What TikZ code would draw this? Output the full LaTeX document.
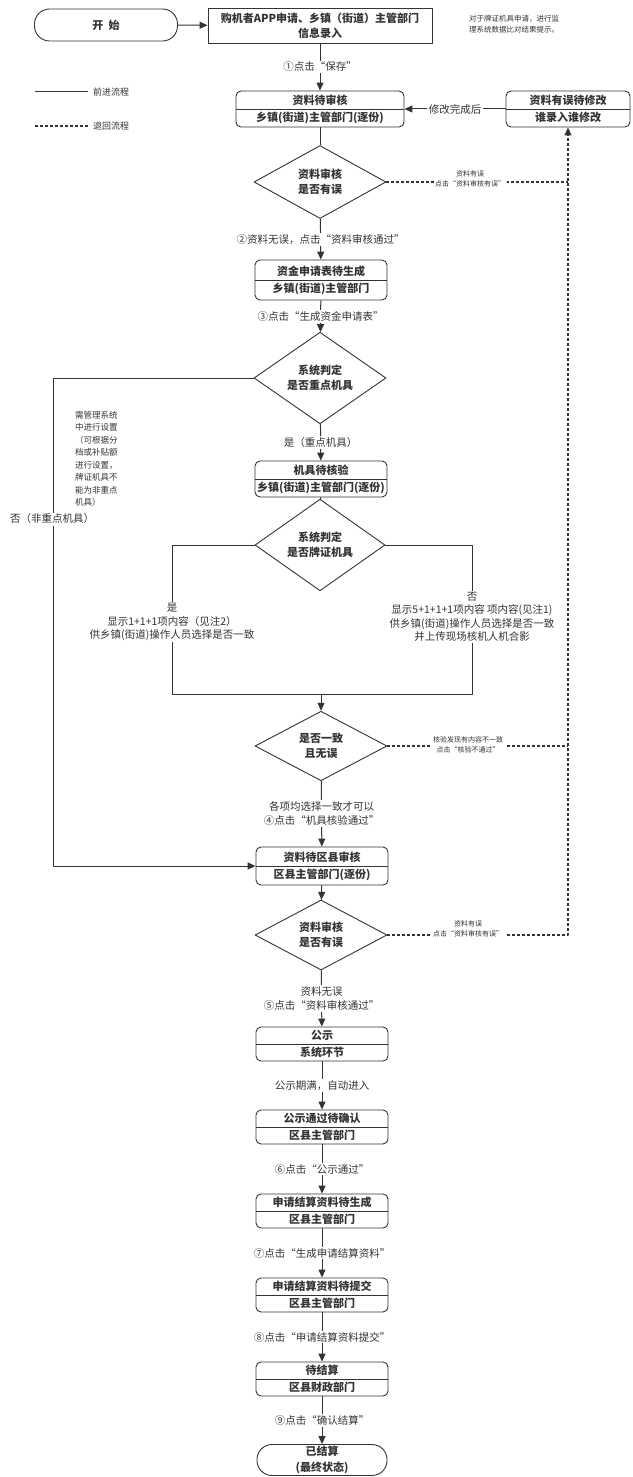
\documentclass[tikz,border=0pt]{standalone}
\usepackage{fontspec}
\setmainfont{Noto Sans CJK SC}
\usetikzlibrary{arrows.meta,shapes.geometric}
\definecolor{ink}{HTML}{333333}

\begin{document}
\begin{tikzpicture}[
  x=1pt, y=-1pt,
  line join=round,
  every node/.style={inner sep=1pt, text=ink},
  forward/.style={draw=ink, line width=1pt},
  flow/.style={forward, -{Triangle[length=8pt,width=7pt]}},
  back/.style={draw=ink, line width=1.2pt, dash pattern=on 2.5pt off 2.5pt},
  backflow/.style={back, -{Triangle[length=8pt,width=7pt]}},
  statebox/.style={draw=ink, line width=0.9pt, rounded corners=5pt,
    minimum width=132pt, minimum height=#1, inner sep=0pt, align=center,
    font=\fontsize{11}{17}\selectfont\bfseries,
    path picture={\draw[ink, line width=0.9pt] (path picture bounding box.west) -- (path picture bounding box.east);}},
  statebox/.default=34pt,
  decide/.style={diamond, draw=ink, line width=0.9pt, minimum width=132pt,
    minimum height=#1, inner sep=0pt, align=center,
    font=\fontsize{11}{15}\selectfont\bfseries},
  decide/.default=70pt,
  term/.style={draw=ink, line width=0.9pt, rounded corners=15pt, align=center,
    font=\fontsize{11}{16}\selectfont\bfseries},
  lbl/.style={fill=white, inner sep=1.5pt, align=center, font=\fontsize{10.5}{14}\selectfont},
  backlbl/.style={fill=white, inner sep=1.5pt, align=center, font=\fontsize{7}{10}\selectfont},
  note/.style={align=left, font=\fontsize{7.5}{11.5}\selectfont},
]
\useasboundingbox (0,0) rectangle (632,1477);

% top row
\node[term, minimum width=143pt, minimum height=32pt] (start) at (106,25) {开\ \ 始};
\node[draw=ink, line width=0.9pt, minimum width=224pt, minimum height=35pt, align=center,
  font=\fontsize{11}{15}\selectfont\bfseries] (apply) at (320,25.5) {购机者APP申请、乡镇（街道）主管部门\\信息录入};
\node[note, anchor=west] (hint) at (468,24) {对于牌证机具申请，进行监\\理系统数据比对结果提示。};

% legend
\coordinate (fwd0) at (35,92);
\coordinate (bck0) at (35,126);
\node[anchor=west, font=\fontsize{9}{11}\selectfont] (fwdtxt) at (92,92) {前进流程};
\node[anchor=west, font=\fontsize{9}{11}\selectfont] (bcktxt) at (92,126) {退回流程};
\draw[forward, shorten >=4pt] (fwd0) -- (fwdtxt.west);
\draw[back, shorten >=4pt] (bck0) -- (bcktxt.west);

% main column
\node[statebox=36pt, minimum width=168pt] (check) at (320,109) {资料待审核\\乡镇(街道)主管部门(逐份)};
\node[statebox=36pt, minimum width=124pt] (fix) at (568,109) {资料有误待修改\\谁录入谁修改};
\node[decide=73pt] (audit) at (320,182) {资料审核\\是否有误};
\node[statebox=40pt] (fund) at (321,280) {资金申请表待生成\\乡镇(街道)主管部门};
\node[decide=67pt] (key) at (320,378) {系统判定\\是否重点机具};
\node[statebox=36pt] (verify) at (321,479) {机具待核验\\乡镇(街道)主管部门(逐份)};
\node[decide=80pt, minimum width=130pt] (plate) at (320,545) {系统判定\\是否牌证机具};
\node[decide=68pt] (match) at (321,746) {是否一致\\且无误};
\node[statebox=38pt] (county) at (322,866) {资料待区县审核\\区县主管部门(逐份)};
\node[decide=70pt] (audit2) at (321,935) {资料审核\\是否有误};
\node[statebox] (publish) at (322,1044) {公示\\系统环节};
\node[statebox] (confirm) at (322,1127) {公示通过待确认\\区县主管部门};
\node[statebox] (gen) at (322,1211) {申请结算资料待生成\\区县主管部门};
\node[statebox] (submit) at (322,1295) {申请结算资料待提交\\区县主管部门};
\node[statebox] (settle) at (322,1379) {待结算\\区县财政部门};
\node[term, minimum width=130pt, minimum height=31pt] (done) at (322,1460) {已结算\\(最终状态)};

% forward flow
\draw[flow] (start) -- (apply);
\draw[flow] (apply) -- node[lbl] {①点击“保存”} (check);
\draw[flow] (fix) -- node[lbl] {修改完成后} (check);
\draw[forward] (check) -- (audit);
\draw[flow] (audit) -- node[lbl] {②资料无误，点击“资料审核通过”} (fund);
\draw[flow] (fund) -- node[lbl] {③点击“生成资金申请表”} (key);
\draw[flow] (key) -- node[lbl] {是（重点机具）} (verify);
\draw[forward] (verify) -- (plate);

\coordinate (joinL) at (172,694);
\coordinate (joinR) at (472,694);
\coordinate (joinM) at (321,694);
\draw[forward] (plate.west) -| (joinL) -- (joinR) |- (plate.east);
\draw[flow] (joinM) -- (match);
\node[lbl, font=\fontsize{10.5}{13.5}\selectfont] (yestxt) at (172,622) {是\\显示1+1+1项内容（见注2）\\供乡镇(街道)操作人员选择是否一致};
\node[lbl, font=\fontsize{10.5}{13.5}\selectfont] (notxt) at (472,617) {否\\显示5+1+1+1项内容 项内容(见注1)\\供乡镇(街道)操作人员选择是否一致\\并上传现场核机人机合影};

\coordinate (skip) at (53,866);
\draw[flow] (key.west) -| (skip) -- (county.west);
\node[lbl] (nokey) at (52,519) {否（非重点机具）};
\node[note, anchor=north west, font=\fontsize{8.5}{12.5}\selectfont] (keynote) at (74,410) {需管理系统\\中进行设置\\（可根据分\\档或补贴额\\进行设置，\\牌证机具不\\能为非重点\\机具）};

\draw[flow] (match) -- node[lbl] {各项均选择一致才可以\\④点击“机具核验通过”} (county);
\draw[flow] (county) -- (audit2);
\draw[flow] (audit2) -- node[lbl] {资料无误\\⑤点击“资料审核通过”} (publish);
\draw[flow] (publish) -- node[lbl] {公示期满，自动进入} (confirm);
\draw[flow] (confirm) -- node[lbl] {⑥点击“公示通过”} (gen);
\draw[flow] (gen) -- node[lbl] {⑦点击“生成申请结算资料”} (submit);
\draw[flow] (submit) -- node[lbl] {⑧点击“申请结算资料提交”} (settle);
\draw[flow] (settle) -- node[lbl] {⑨点击“确认结算”} (done);

% return flow
\draw[back] (audit.east) -- (audit.east -| fix.south);
\draw[back] (match.east) -- (match.east -| fix.south);
\draw[backflow] (audit2.east) -| (fix.south);
\node[backlbl] (errtxt) at (470,179) {资料有误\\点击“资料审核有误”};
\node[backlbl] (mistxt) at (468,745) {核验发现有内容不一致\\点击“核验不通过”};
\node[backlbl] (errtxt2) at (468,929) {资料有误\\点击“资料审核有误”};
\end{tikzpicture}
\end{document}
